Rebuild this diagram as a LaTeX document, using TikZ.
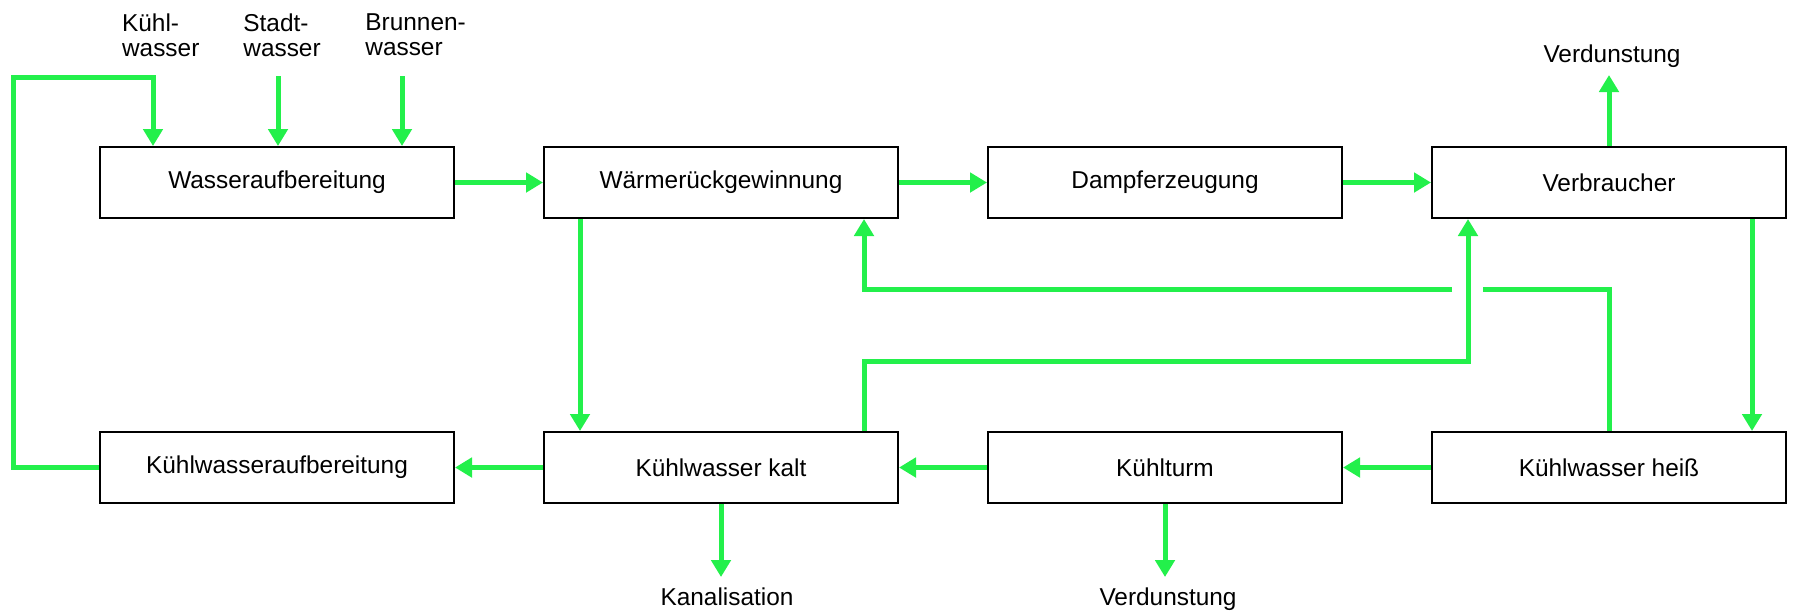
\documentclass[tikz,border=0pt]{standalone}
\usepackage{fontspec}
\setmainfont{Liberation Sans}
\usetikzlibrary{arrows.meta}
\definecolor{flowgreen}{RGB}{35,240,75}
\begin{document}
\begin{tikzpicture}[x=0.5pt,y=-0.5pt,
  box/.style={draw=black, line width=1pt, minimum width=177pt, minimum height=35.5pt, inner sep=0pt, font=\fontsize{12.2}{14}\selectfont},
  flow/.style={draw=flowgreen, line width=2.5pt, -{Triangle[width=9.6pt,length=8.5pt]}},
  flowline/.style={draw=flowgreen, line width=2.5pt},
  lab/.style={inner sep=0pt, font=\fontsize{12.2}{12.85}\selectfont}]
\useasboundingbox (0,0) rectangle (1793,612);

% boxes
\node[box] (wa) at (277,182.5) {Wasseraufbereitung};
\node[box] (wr) at (721,182.5) {Wärmerückgewinnung};
\node[box] (de) at (1165,182.5) {Dampferzeugung};
\node[box] (vb) at (1609,182.5) {Verbraucher};
\node[box] (ka) at (277,467.5) {Kühlwasseraufbereitung};
\node[box] (kk) at (721,467.5) {Kühlwasser kalt};
\node[box] (kt) at (1165,467.5) {Kühlturm};
\node[box] (kh) at (1609,467.5) {Kühlwasser heiß};

% labels
\node[lab, anchor=north west, align=left] (lk) at (121.7,13) {Kühl-\\wasser};
\node[lab, anchor=north west, align=left] (ls) at (243,13) {Stadt-\\wasser};
\node[lab, anchor=north west, align=left] (lb) at (365,13) {Brunnen-\\wasser};
\node[lab, anchor=base] (lv1) at (1612,62) {Verdunstung};
\node[lab, anchor=base] (lkan) at (727,605) {Kanalisation};
\node[lab, anchor=base] (lv2) at (1168,605) {Verdunstung};

% coordinates
\coordinate (sw) at (278,76);
\coordinate (bw) at (402,76);
\coordinate (l1) at (13,77);
\coordinate (l2) at (153,77);
\coordinate (x580) at (580,0);
\coordinate (x1752) at (1752,0);
\coordinate (vt) at (1609,75);
\coordinate (kan) at (721,577);
\coordinate (ver) at (1165,577);
\coordinate (c1) at (864,361);
\coordinate (c2) at (1468,361);
\coordinate (h1) at (1609,289);
\coordinate (h2) at (1483,289);
\coordinate (h3) at (1452,289);
\coordinate (h4) at (864,289);

% inputs
\draw[flow] (sw) -- (sw |- wa.north);
\draw[flow] (bw) -- (bw |- wa.north);
\draw[flow] (ka.west) -- (ka.west -| l1) -- (l1) -- (l2) -- (l2 |- wa.north);

% top row
\draw[flow] (wa.east) -- (wr.west);
\draw[flow] (wr.east) -- (de.west);
\draw[flow] (de.east) -- (vb.west);
\draw[flow] (vb.north) -- (vt);
\draw[flow] (vb.south -| x1752) -- (kh.north -| x1752);

% bottom row
\draw[flow] (kh.west) -- (kt.east);
\draw[flow] (kt.west) -- (kk.east);
\draw[flow] (kk.west) -- (ka.east);
\draw[flow] (kk.south) -- (kan);
\draw[flow] (kt.south) -- (ver);

% cross connections
\draw[flow] (wr.south -| x580) -- (kk.north -| x580);
\draw[flow] (kk.north -| c1) -- (c1) -- (c2) -- (vb.south -| c2);
\draw[flowline] (kh.north) -- (h1) -- (h2);
\draw[flow] (h3) -- (h4) -- (wr.south -| h4);
\end{tikzpicture}
\end{document}
